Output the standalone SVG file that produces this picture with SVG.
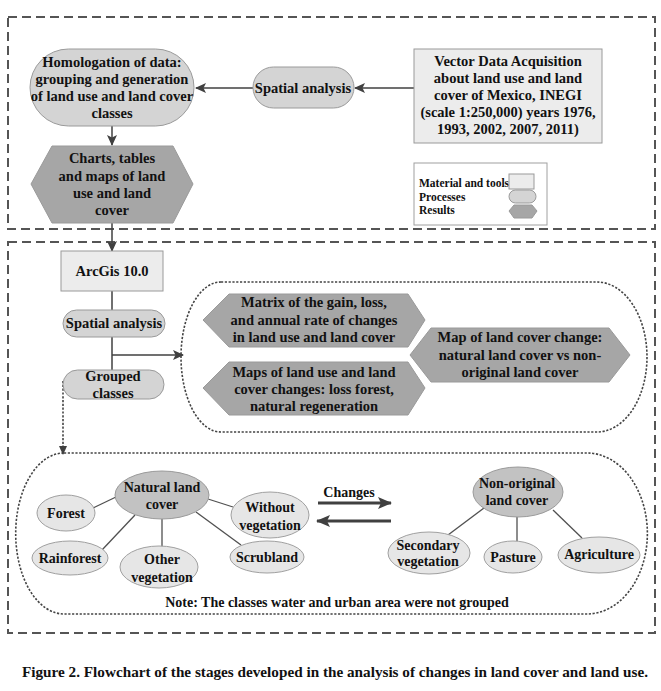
<svg xmlns="http://www.w3.org/2000/svg" width="661" height="691" viewBox="0 0 661 691">
<style>
text{font-family:"Liberation Serif","Times New Roman",serif;font-weight:bold;fill:#111;text-anchor:middle}
.t15{font-size:14.5px}
.t14{font-size:14px}
.t11{font-size:11.5px;text-anchor:start}
.frame{fill:none;stroke:#555;stroke-width:2;stroke-dasharray:9 5}
.dot{fill:none;stroke:#444;stroke-width:1.6;stroke-dasharray:2.2 1.6}
.mat{fill:#ececec;stroke:#9a9a9a;stroke-width:1}
.proc{fill:#d4d4d4;stroke:#9a9a9a;stroke-width:1}
.res{fill:#a6a6a6;stroke:#9a9a9a;stroke-width:1}
.main{fill:#c2c2c2;stroke:#9a9a9a;stroke-width:1}
.leaf{fill:#e6e6e6;stroke:#a0a0a0;stroke-width:1}
.ln{fill:none;stroke:#404040;stroke-width:1.5}
.thin{fill:none;stroke:#505050;stroke-width:1.3}
.thick{fill:none;stroke:#404040;stroke-width:3}
</style>
<defs>
<marker id="ah" markerUnits="userSpaceOnUse" markerWidth="11" markerHeight="10" refX="10" refY="5" orient="auto">
<path d="M0,0 L11,5 L0,10 L2.5,5 z" fill="#404040"/>
</marker>
<marker id="ahs" markerUnits="userSpaceOnUse" markerWidth="9" markerHeight="8" refX="8" refY="4" orient="auto">
<path d="M0,0 L9,4 L0,8 z" fill="#404040"/>
</marker>
<marker id="ahb" markerUnits="userSpaceOnUse" markerWidth="14" markerHeight="12" refX="13" refY="6" orient="auto">
<path d="M0,0 L14,6 L0,12 L3,6 z" fill="#404040"/>
</marker>
</defs>

<!-- frames -->
<rect class="frame" x="8" y="17" width="647" height="212"/>
<rect class="frame" x="8" y="242" width="647" height="391"/>
<path class="dot" d="M221,282 H597 A50 75 0 0 1 597,432 H221 A40 75 0 0 1 221,282 Z"/>
<path class="dot" d="M64,453 H587 A60 80 0 0 1 587,614 H64 A48 80 0 0 1 64,453 Z"/>

<!-- connectors -->
<g id="connectors">
<line class="ln" x1="414" y1="88" x2="355" y2="88" marker-end="url(#ah)"/>
<line class="ln" x1="253" y1="88" x2="196" y2="88" marker-end="url(#ah)"/>
<line class="ln" x1="112" y1="126" x2="112" y2="145" marker-end="url(#ah)"/>
<line class="ln" x1="112" y1="223" x2="112" y2="251" marker-end="url(#ah)"/>
<line class="ln" x1="112" y1="291" x2="112" y2="310"/>
<line class="ln" x1="112" y1="337" x2="112" y2="370"/>
<line class="ln" x1="112" y1="355" x2="183" y2="355" marker-end="url(#ah)"/>
<line class="dot" x1="63" y1="381" x2="63" y2="454" marker-end="url(#ahs)"/>
<line class="thin" x1="116" y1="497" x2="93" y2="508"/>
<line class="thin" x1="135" y1="515" x2="102" y2="550"/>
<line class="thin" x1="162" y1="519" x2="162" y2="547"/>
<line class="thin" x1="196" y1="512" x2="241" y2="545"/>
<line class="thin" x1="208" y1="499" x2="233" y2="507"/>
<line class="thin" x1="484" y1="508" x2="448" y2="535"/>
<line class="thin" x1="517" y1="517" x2="517" y2="541"/>
<line class="thin" x1="553" y1="510" x2="582" y2="538"/>
<line class="thick" x1="318" y1="503" x2="391" y2="503" marker-end="url(#ahb)"/>
<line class="thick" x1="391" y1="521" x2="317" y2="521" marker-end="url(#ahb)"/>
</g>

<g id="homologation">
<rect class="proc" x="30" y="49" width="164" height="77" rx="38.5" ry="38.5"/>
<text class="t15" x="112" y="67">Homologation of data:</text>
<text class="t15" x="112" y="84">grouping and generation</text>
<text class="t15" x="112" y="101">of land use and land cover</text>
<text class="t15" x="112" y="118">classes</text>
</g>

<g id="spatial-top">
<rect class="proc" x="253" y="67" width="101" height="41" rx="20.5" ry="20.5"/>
<text class="t15" x="303" y="93">Spatial analysis</text>
</g>

<g id="vector-data">
<rect class="mat" x="414" y="49" width="188" height="94"/>
<text class="t15" x="508" y="66">Vector Data Acquisition</text>
<text class="t15" x="508" y="83">about land use and land</text>
<text class="t15" x="508" y="100">cover of Mexico, INEGI</text>
<text class="t15" x="508" y="117">(scale 1:250,000) years 1976,</text>
<text class="t15" x="508" y="134">1993, 2002, 2007, 2011)</text>
</g>

<g id="charts">
<polygon class="res" points="31,184 52,146 173,146 193,184 173,223 52,223"/>
<text class="t15" x="112" y="163">Charts, tables</text>
<text class="t15" x="112" y="181">and maps of land</text>
<text class="t15" x="112" y="198">use and land</text>
<text class="t15" x="112" y="215">cover</text>
</g>

<g id="legend">
<rect x="414" y="163" width="133" height="62" fill="#fff" stroke="#a0a0a0" stroke-width="1"/>
<text class="t11" x="419" y="187">Material and tools</text>
<text class="t11" x="419" y="201">Processes</text>
<text class="t11" x="419" y="214">Results</text>
<rect class="mat" x="509" y="174" width="25" height="15"/>
<rect class="proc" x="509" y="190" width="27" height="13" rx="6.5" ry="6.5"/>
<polygon class="res" points="509,211 514,205 532,205 537,211 532,218 514,218"/>
</g>

<g id="arcgis">
<rect class="mat" x="61" y="251" width="102" height="40"/>
<text class="t15" x="112" y="276">ArcGis 10.0</text>
</g>

<g id="spatial-mid">
<rect class="proc" x="63" y="310" width="102" height="27" rx="13.5" ry="13.5"/>
<text class="t15" x="114" y="328">Spatial analysis</text>
</g>

<g id="grouped">
<rect class="proc" x="63" y="370" width="101" height="29" rx="14.5" ry="14.5"/>
<text class="t15" x="113" y="381">Grouped</text>
<text class="t15" x="113" y="398">classes</text>
</g>

<g id="matrix">
<polygon class="res" points="203,320 229,294 408,294 425,320 408,347 229,347"/>
<text class="t15" x="314" y="307">Matrix of the gain, loss,</text>
<text class="t15" x="314" y="325">and annual rate of changes</text>
<text class="t15" x="314" y="342">in land use and land cover</text>
</g>

<g id="maps">
<polygon class="res" points="203,388 229,362 408,362 425,388 408,415 229,415"/>
<text class="t15" x="314" y="377">Maps of land use and land</text>
<text class="t15" x="314" y="394">cover changes: loss forest,</text>
<text class="t15" x="314" y="411">natural regeneration</text>
</g>

<g id="map-change">
<polygon class="res" points="410,355 431,328 609,328 630,355 609,382 431,382"/>
<text class="t15" x="520" y="342">Map of land cover change:</text>
<text class="t15" x="520" y="360">natural land cover vs non-</text>
<text class="t15" x="520" y="377">original land cover</text>
</g>

<g id="natural">
<ellipse class="main" cx="162" cy="495" rx="47" ry="24"/>
<text class="t14" x="162" y="492">Natural land</text>
<text class="t14" x="162" y="509">cover</text>
</g>
<g id="forest">
<ellipse class="leaf" cx="66" cy="513" rx="29" ry="18"/>
<text class="t14" x="66" y="518">Forest</text>
</g>
<g id="without">
<ellipse class="leaf" cx="270" cy="515" rx="39" ry="23"/>
<text class="t14" x="270" y="512">Without</text>
<text class="t14" x="270" y="530">vegetation</text>
</g>
<g id="rainforest">
<ellipse class="leaf" cx="70" cy="558" rx="38" ry="17"/>
<text class="t14" x="70" y="563">Rainforest</text>
</g>
<g id="other">
<ellipse class="leaf" cx="159" cy="567" rx="39" ry="21"/>
<text class="t14" x="162" y="564">Other</text>
<text class="t14" x="162" y="582">vegetation</text>
</g>
<g id="scrubland">
<ellipse class="leaf" cx="267" cy="557" rx="37" ry="16"/>
<text class="t14" x="267" y="562">Scrubland</text>
</g>

<g id="changes">
<text class="t14" x="349" y="497">Changes</text>
</g>

<g id="nonoriginal">
<ellipse class="main" cx="518" cy="492" rx="45" ry="25"/>
<text class="t14" x="517" y="488">Non-original</text>
<text class="t14" x="517" y="505">land cover</text>
</g>
<g id="secondary">
<ellipse class="leaf" cx="429" cy="553" rx="41" ry="21"/>
<text class="t14" x="428" y="550">Secondary</text>
<text class="t14" x="428" y="566">vegetation</text>
</g>
<g id="pasture">
<ellipse class="leaf" cx="513" cy="557" rx="29" ry="16"/>
<text class="t14" x="513" y="562">Pasture</text>
</g>
<g id="agriculture">
<ellipse class="leaf" cx="599" cy="555" rx="41" ry="18"/>
<text class="t14" x="599" y="559">Agriculture</text>
</g>

<text class="t14" x="337" y="607">Note: The classes water and urban area were not grouped</text>

<text x="335" y="677" style="font-size:14.5px" textLength="626" lengthAdjust="spacingAndGlyphs">Figure 2. Flowchart of the stages developed in the analysis of changes in land cover and land use.</text>
</svg>
